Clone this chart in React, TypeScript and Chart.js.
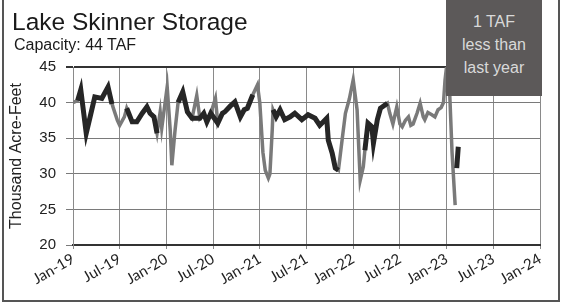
import React, { useEffect, useRef } from "react";
import { Chart, registerables } from "chart.js";

Chart.register(...registerables);

// months since Jan-2019
const grayMonths = [
  0, 0.6, 1.0, 1.7, 2.2, 2.8, 3.7, 4.5, 5.1, 5.7, 6.0, 6.6, 6.9, 7.6, 8.2, 8.9, 9.5, 9.9, 10.4, 10.8, 11.2, 11.4,
  12.1, 12.5, 12.7, 13.1, 13.5, 14.1, 14.7, 15.3, 15.9, 16.3, 16.8, 17.2, 17.7, 18.3, 18.6, 19.2, 19.5, 20.2, 20.8,
  21.5, 22.0, 22.4, 23.1, 23.7, 24.0, 24.4, 24.7, 25.1, 25.3, 25.6, 25.7, 26.1, 26.6, 27.2, 27.9, 28.5, 29.4, 30.2,
  31.1, 31.7, 32.6, 32.8, 33.3, 33.7, 34.1, 34.6, 35.0, 35.5, 36.0, 36.5, 36.9, 37.3, 37.5, 37.9, 38.4, 38.6, 39.1,
  39.5, 40.4, 40.7, 41.1, 41.6, 42.0, 42.3, 42.7, 43.1, 43.4, 43.7, 44.2, 44.6, 45.0, 45.2, 45.6, 46.1, 46.5, 46.9,
  47.3, 47.6, 47.8, 48.1, 48.3, 48.7, 49.1,
];
const grayValues = [
  40.0, 40.3, 41.8, 35.7, 38.0, 40.8, 40.6, 42.2, 39.5, 37.5, 36.8, 38.0, 39.2, 37.3, 37.3, 38.5, 39.4, 38.5, 38.0, 35.7, 38.7, 36.4,
  42.2, 36.0, 31.2, 36.0, 40.0, 41.5, 38.7, 37.8, 41.0, 37.8, 38.5, 37.3, 38.5, 40.6, 37.1, 38.5, 38.7, 39.5, 40.1,
  38.0, 39.0, 39.2, 41.1, 42.5, 40.0, 33.0, 30.5, 29.4, 30.0, 36.2, 39.0, 38.0, 39.0, 37.6, 38.0, 38.5, 37.6, 38.3,
  37.8, 36.8, 37.8, 34.7, 32.9, 30.8, 30.5, 35.0, 38.5, 40.5, 43.2, 39.0, 29.1, 31.0, 33.3, 37.1, 36.6, 34.3, 37.6,
  39.2, 39.9, 38.5, 37.0, 39.4, 37.0, 36.6, 37.5, 38.0, 36.8, 37.0, 38.5, 39.9, 38.0, 37.6, 38.6, 38.3, 38.0, 39.0,
  39.3, 40.0, 43.2, 46.0, 44.0, 33.0, 25.6,
];

// darker overlay series (null = gap)
const blackMonths = [
  0.6, 1.0, 1.7, 2.2, 2.8, 3.7, 4.5, 5.0, 5.2,
  6.9, 7.6, 8.2, 8.9, 9.5, 9.9, 10.4, 10.8, 10.9,
  13.5, 14.1, 14.7, 15.3, 16.3, 16.8, 17.2, 17.7, 18.6, 19.2, 19.5, 20.2, 20.8, 21.5, 22.0, 22.4, 23.1, 23.2,
  25.7, 26.1, 26.6, 27.2, 27.9, 28.5, 29.4, 30.2, 31.1, 31.7, 32.6, 32.8, 33.3, 33.7, 34.1, 34.2,
  37.5, 37.9, 38.4, 38.6, 39.1, 39.5, 40.4, 40.5,
  49.3, 49.5,
];
const blackValues = [
  40.3, 41.8, 35.7, 38.0, 40.8, 40.6, 42.2, 39.8, null,
  39.2, 37.3, 37.3, 38.5, 39.4, 38.5, 38.0, 35.7, null,
  40.0, 41.5, 38.7, 37.8, 37.8, 38.5, 37.3, 38.5, 37.1, 38.5, 38.7, 39.5, 40.1, 38.0, 39.0, 39.2, 41.1, null,
  39.0, 38.0, 39.0, 37.6, 38.0, 38.5, 37.6, 38.3, 37.8, 36.8, 37.8, 34.7, 32.9, 30.8, 30.5, null,
  33.3, 37.1, 36.6, 34.3, 37.6, 39.2, 39.9, null,
  30.8, 33.8,
];

const xTickLabels = ["Jan-19", "Jul-19", "Jan-20", "Jul-20", "Jan-21", "Jul-21", "Jan-22", "Jul-22", "Jan-23", "Jul-23", "Jan-24"];
const yTicks = [20, 25, 30, 35, 40, 45];

export default function App() {
  const ref = useRef<HTMLCanvasElement | null>(null);

  useEffect(() => {
    document.body.style.margin = "0";
    const canvas = ref.current;
    if (!canvas) return;
    const chart = new Chart(canvas, {
      type: "line",
      data: {
        datasets: [
          {
            label: "Storage (black)",
            data: blackMonths.map((x, i) => ({ x, y: blackValues[i] })),
            borderColor: "#262626",
            borderWidth: 5,
            pointRadius: 0,
            tension: 0,
            spanGaps: false,
            order: 1,
          },
          {
            label: "Storage",
            data: grayMonths.map((x, i) => ({ x, y: grayValues[i] })),
            borderColor: "#7a7a7a",
            borderWidth: 3.5,
            pointRadius: 0,
            tension: 0,
            order: 2,
          },
        ],
      },
      options: {
        responsive: false,
        animation: false,
        layout: { padding: { left: 0, top: 67, right: 25, bottom: 0 } },
        plugins: { legend: { display: false }, tooltip: { enabled: false }, title: { display: false } },
        scales: {
          x: {
            type: "linear",
            min: 0,
            max: 60,
            afterFit: (s: any) => {
              s.height = 63;
            },
            afterBuildTicks: (s: any) => {
              s.ticks = xTickLabels.map((_, i) => ({ value: i * 6 }));
            },
            ticks: {
              autoSkip: false,
              maxRotation: 30,
              minRotation: 30,
              padding: 1,
              color: "#222",
              font: { family: "Lato, 'Liberation Sans', sans-serif", size: 15 },
              callback: (v: any) => xTickLabels[Math.round(Number(v) / 6)] ?? "",
            },
            grid: { color: "#8a8a8a", lineWidth: 1, tickLength: 4 },
            border: { color: "#333", width: 2 },
          },
          y: {
            min: 20,
            max: 45,
            afterFit: (s: any) => {
              s.width = 73;
            },
            afterBuildTicks: (s: any) => {
              s.ticks = yTicks.map((v) => ({ value: v }));
            },
            ticks: {
              padding: 10,
              color: "#222",
              font: { family: "'Liberation Sans', Arial, sans-serif", size: 15 },
            },
            grid: {
              color: (c: any) => (c.tick && c.tick.value === 45 ? "#333" : "#7a7a7a"),
              lineWidth: (c: any) => (c.tick && c.tick.value === 45 ? 2 : 1),
              tickLength: 7,
            },
            border: { color: "#8a8a8a", width: 1 },
            title: {
              display: true,
              text: "Thousand Acre-Feet",
              color: "#222",
              padding: { top: 7, bottom: 0 },
              font: { family: "'Liberation Sans', Arial, sans-serif", size: 16 },
            },
          },
        },
      },
    });
    return () => chart.destroy();
  }, []);

  return (
    <div style={{ position: "fixed", left: 0, top: 0, width: 565, height: 308, background: "#fff", overflow: "hidden" }}>
      <canvas ref={ref} width={565} height={308} style={{ position: "absolute", left: 0, top: 0 }} />
      <div
        style={{
          position: "absolute",
          left: 2,
          top: 0,
          width: 554,
          height: 300,
          border: "2px solid #555",
          borderTop: "none",
          pointerEvents: "none",
        }}
      />
      <div
        style={{
          position: "absolute",
          left: 12,
          top: 8,
          fontFamily: "'Liberation Sans', Arial, sans-serif",
          fontSize: 24.5,
          color: "#1a1a1a",
          lineHeight: "28px",
          whiteSpace: "nowrap",
        }}
      >
        Lake Skinner Storage
      </div>
      <div
        style={{
          position: "absolute",
          left: 14,
          top: 35,
          fontFamily: "'Liberation Sans', Arial, sans-serif",
          fontSize: 16,
          color: "#1a1a1a",
          lineHeight: "19px",
          whiteSpace: "nowrap",
        }}
      >
        Capacity: 44 TAF
      </div>
      <div
        style={{
          position: "absolute",
          left: 446,
          top: 0,
          width: 96,
          height: 96,
          background: "#5c5959",
          color: "#d9d9d9",
          fontFamily: "'Liberation Sans', Arial, sans-serif",
          fontSize: 16,
          lineHeight: "23px",
          textAlign: "center",
          paddingTop: 10,
          boxSizing: "border-box",
        }}
      >
        1 TAF
        <br />
        less than
        <br />
        last year
      </div>
    </div>
  );
}
